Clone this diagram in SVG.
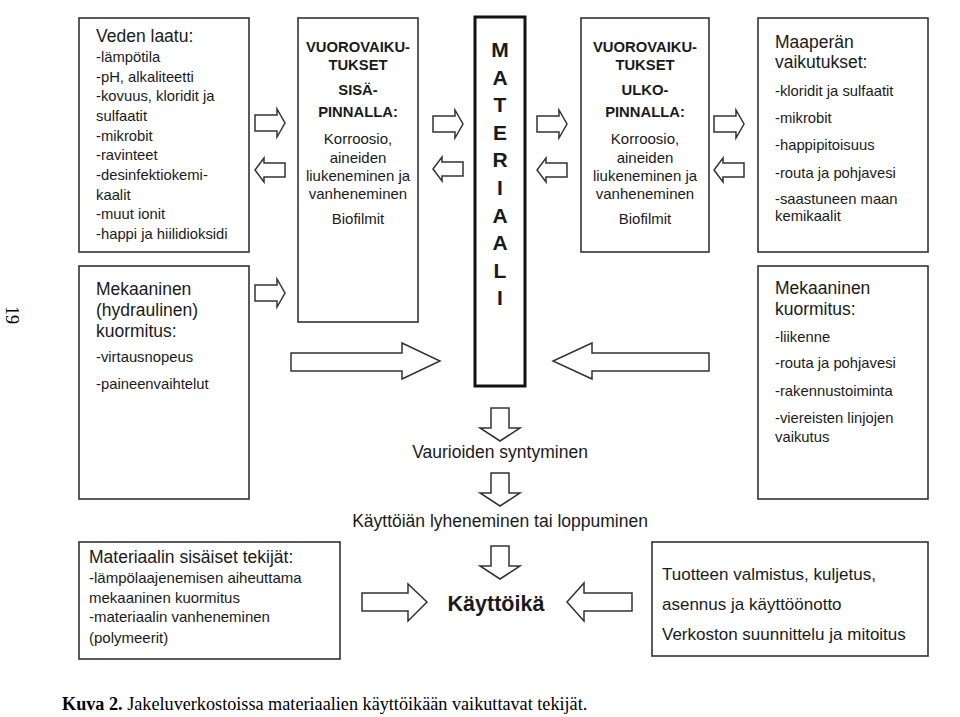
<svg xmlns="http://www.w3.org/2000/svg" width="960" height="717" viewBox="0 0 960 717">
<style>
.box{fill:#fff;stroke:#333;stroke-width:1.6}
.mat{fill:#fff;stroke:#111;stroke-width:3}
.arr{fill:#fff;stroke:#333;stroke-width:1.5;stroke-linejoin:miter}
text{font-family:"Liberation Sans",Arial,sans-serif;fill:#1a1a1a}
.h{font-size:17.5px}
.i{font-size:14.8px}
.b{font-size:14.8px;font-weight:bold}
.r{font-size:15px}
.c{text-anchor:middle}
.m{font-size:21px;font-weight:bold;text-anchor:middle}
.cap{font-family:"Liberation Serif","Times New Roman",serif;font-size:18.2px;fill:#000}
</style>
<defs>
<path id="ra" d="M0,6 H22 V0 L30,14 L22,28 V22 H0 Z"/>
<path id="la" d="M30,5 H9 V0 L0,12 L9,24 V19 H30 Z"/>
<path id="da" d="M-9,0 H9 V20 H20 L0,33 L-20,20 H-9 Z"/>
</defs>
<rect width="960" height="717" fill="#fff"/>

<g id="connectors">
<use href="#ra" x="255" y="109" class="arr"/>
<use href="#la" x="255" y="158" class="arr"/>
<use href="#ra" x="433" y="110" class="arr"/>
<use href="#la" x="433" y="157" class="arr"/>
<use href="#ra" x="537" y="110" class="arr"/>
<use href="#la" x="537" y="158" class="arr"/>
<use href="#ra" x="714" y="110" class="arr"/>
<use href="#la" x="714" y="158" class="arr"/>
<use href="#ra" x="255" y="279" class="arr"/>
<path class="arr" d="M291,353 H402 V343 L440,361 L402,379 V371 H291 Z"/>
<path class="arr" d="M709,353 H592 V343 L553,361 L592,379 V371 H709 Z"/>
<use href="#da" x="500" y="408" class="arr"/>
<use href="#da" x="500" y="473" class="arr"/>
<use href="#da" x="500" y="546" class="arr"/>
<path class="arr" d="M362,593 H408 V584 L427,602 L408,621 V611 H362 Z"/>
<path class="arr" d="M632,593 H584 V583 L567,602 L584,621 V611 H632 Z"/>
</g>

<g id="veden-laatu">
<rect class="box" x="79" y="18" width="170" height="234"/>
<text class="h" x="96" y="42">Veden laatu:</text>
<text class="i" x="96" y="62">-lämpötila</text>
<text class="i" x="96" y="82">-pH, alkaliteetti</text>
<text class="i" x="96" y="101">-kovuus, kloridit ja</text>
<text class="i" x="96" y="121">sulfaatit</text>
<text class="i" x="96" y="141">-mikrobit</text>
<text class="i" x="96" y="160">-ravinteet</text>
<text class="i" x="96" y="180">-desinfektiokemi-</text>
<text class="i" x="96" y="200">kaalit</text>
<text class="i" x="96" y="219">-muut ionit</text>
<text class="i" x="96" y="239">-happi ja hiilidioksidi</text>
</g>

<g id="sisapinta">
<rect class="box" x="298" y="18" width="120" height="304"/>
<text class="b c" x="358" y="52">VUOROVAIKU-</text>
<text class="b c" x="358" y="70">TUKSET</text>
<text class="b c" x="358" y="95">SISÄ-</text>
<text class="b c" x="358" y="117">PINNALLA:</text>
<text class="r c" x="358" y="144">Korroosio,</text>
<text class="r c" x="358" y="163">aineiden</text>
<text class="r c" x="358" y="181">liukeneminen ja</text>
<text class="r c" x="358" y="199">vanheneminen</text>
<text class="r c" x="358" y="224">Biofilmit</text>
</g>

<g id="materiaali">
<rect class="mat" x="475" y="17" width="50" height="369"/>
<text class="m" x="500" y="57">M</text>
<text class="m" x="500" y="85">A</text>
<text class="m" x="500" y="112">T</text>
<text class="m" x="500" y="140">E</text>
<text class="m" x="500" y="167">R</text>
<text class="m" x="500" y="195">I</text>
<text class="m" x="500" y="223">A</text>
<text class="m" x="500" y="250">A</text>
<text class="m" x="500" y="278">L</text>
<text class="m" x="500" y="305">I</text>
</g>

<g id="ulkopinta">
<rect class="box" x="581" y="18" width="128" height="234"/>
<text class="b c" x="645" y="52">VUOROVAIKU-</text>
<text class="b c" x="645" y="70">TUKSET</text>
<text class="b c" x="645" y="95">ULKO-</text>
<text class="b c" x="645" y="117">PINNALLA:</text>
<text class="r c" x="645" y="144">Korroosio,</text>
<text class="r c" x="645" y="163">aineiden</text>
<text class="r c" x="645" y="181">liukeneminen ja</text>
<text class="r c" x="645" y="199">vanheneminen</text>
<text class="r c" x="645" y="224">Biofilmit</text>
</g>

<g id="maapera">
<rect class="box" x="758" y="18" width="170" height="234"/>
<text class="h" x="775" y="48">Maaperän</text>
<text class="h" x="775" y="68">vaikutukset:</text>
<text class="i" x="775" y="96">-kloridit ja sulfaatit</text>
<text class="i" x="775" y="123">-mikrobit</text>
<text class="i" x="775" y="150">-happipitoisuus</text>
<text class="i" x="775" y="178">-routa ja pohjavesi</text>
<text class="i" x="775" y="204">-saastuneen maan</text>
<text class="i" x="775" y="221">kemikaalit</text>
</g>

<g id="mekaaninen-hydraulinen">
<rect class="box" x="79" y="266" width="170" height="233"/>
<text class="h" x="96" y="295">Mekaaninen</text>
<text class="h" x="96" y="316">(hydraulinen)</text>
<text class="h" x="96" y="337">kuormitus:</text>
<text class="i" x="96" y="362">-virtausnopeus</text>
<text class="i" x="96" y="389">-paineenvaihtelut</text>
</g>

<g id="mekaaninen-ulkoinen">
<rect class="box" x="758" y="266" width="170" height="233"/>
<text class="h" x="775" y="294">Mekaaninen</text>
<text class="h" x="775" y="315">kuormitus:</text>
<text class="i" x="775" y="342">-liikenne</text>
<text class="i" x="775" y="368">-routa ja pohjavesi</text>
<text class="i" x="775" y="396">-rakennustoiminta</text>
<text class="i" x="775" y="423">-viereisten linjojen</text>
<text class="i" x="775" y="442">vaikutus</text>
</g>

<g id="vauriot">
<text class="h c" x="500" y="458">Vaurioiden syntyminen</text>
</g>

<g id="kayttoian-lyheneminen">
<text class="h c" x="500" y="527">Käyttöiän lyheneminen tai loppuminen</text>
</g>

<g id="sisaiset-tekijat">
<rect class="box" x="79" y="542" width="261" height="117"/>
<text class="h" x="89" y="563">Materiaalin sisäiset tekijät:</text>
<text class="r" x="89" y="583">-lämpölaajenemisen aiheuttama</text>
<text class="r" x="89" y="603">mekaaninen kuormitus</text>
<text class="r" x="89" y="622">-materiaalin vanheneminen</text>
<text class="r" x="89" y="643">(polymeerit)</text>
</g>

<g id="kayttoika">
<text x="496" y="611" style="font-size:21.5px;font-weight:bold;text-anchor:middle">Käyttöikä</text>
</g>

<g id="tuote">
<rect class="box" x="652" y="542" width="276" height="114"/>
<text class="h" x="662" y="580" style="font-size:17px">Tuotteen valmistus, kuljetus,</text>
<text class="h" x="662" y="610" style="font-size:17px">asennus ja käyttöönotto</text>
<text class="h" x="662" y="640" style="font-size:17px">Verkoston suunnittelu ja mitoitus</text>
</g>

<text class="cap" x="10" y="315" transform="rotate(90 10 315)" text-anchor="middle" dominant-baseline="middle">19</text>
<text class="cap" x="62" y="710"><tspan font-weight="bold">Kuva 2.</tspan> Jakeluverkostoissa materiaalien käyttöikään vaikuttavat tekijät.</text>
</svg>
